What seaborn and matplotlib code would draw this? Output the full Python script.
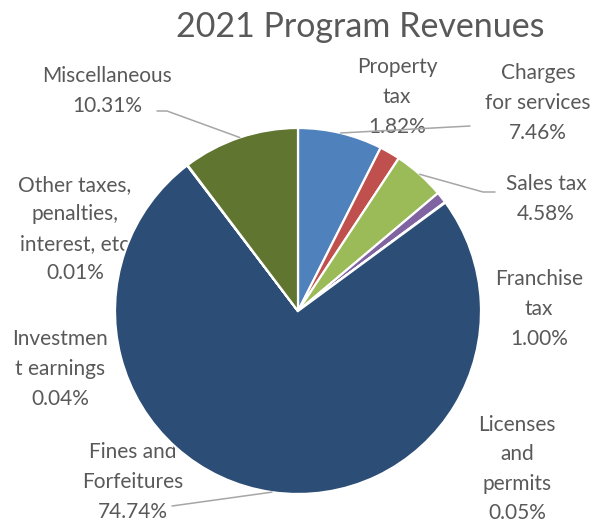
import numpy as np
import matplotlib
matplotlib.use("Agg")
import matplotlib.pyplot as plt
import seaborn as sns

# Revenue categories in clockwise order starting at 12 o'clock
categories = [
    "Charges\nfor services",
    "Property\ntax",
    "Sales tax",
    "Franchise\ntax",
    "Licenses\nand\npermits",
    "Fines and\nForfeitures",
    "Investmen\nt earnings",
    "Other taxes,\npenalties,\ninterest, etc",
    "Miscellaneous",
]
shares = [7.46, 1.82, 4.58, 1.00, 0.05, 74.74, 0.04, 0.01, 10.31]
colors = ["#4F81BD", "#C0504D", "#9BBB59", "#8064A2", "#4BACC6",
          "#2C4D75", "#F79646", "#772C2A", "#5F7530"]

sns.set_theme(style="white")
plt.rcParams["font.family"] = ["Lato", "DejaVu Sans"]

W, H = 592, 522
fig = plt.figure(figsize=(W / 100, H / 100), dpi=100)
fig.patch.set_facecolor("white")

# pie placement (pixels): centre and radius
CX, CY, R = 298, 311, 183
ax = fig.add_axes([(CX - R) / W, (H - CY - R) / H, 2 * R / W, 2 * R / H])

wedges, _ = ax.pie(shares, colors=colors, startangle=90, counterclock=False,
                   radius=1.0,
                   wedgeprops=dict(edgecolor="white", linewidth=1.6, zorder=3))
ax.set_xlim(-1, 1)
ax.set_ylim(-1, 1)
ax.set_aspect("equal")
ax.axis("off")


def to_data(px, py):
    return (px - CX) / R, (CY - py) / R


text_color = "#595959"
line_color = "#A6A6A6"

# label block centres in pixels, per category
label_pos = [
    (538, 103),
    (397, 97),
    (546, 199),
    (539, 309),
    (517, 469),
    (133, 482),
    (60, 369),
    (75, 229),
    (107, 91),
]

for name, val, (lx, ly) in zip(categories, shares, label_pos):
    x, y = to_data(lx, ly)
    ax.text(x, y, f"{name}\n{val:.2f}%", ha="center", va="center",
            fontsize=15, color=text_color, linespacing=1.6,
            zorder=1, clip_on=False)

# leader lines from wedge midpoints to labels
leaders = {
    0: [(470, 126)],
    2: [(483, 192), (495, 192)],
    5: [(172, 506)],
    8: [(167, 111), (157, 111)],
}
cum = np.cumsum([0] + shares)
total = cum[-1]
for idx, pts in leaders.items():
    mid = (cum[idx] + cum[idx + 1]) / 2 / total
    ang = np.deg2rad(90 - 360 * mid)
    xs = [np.cos(ang) * 1.0]
    ys = [np.sin(ang) * 1.0]
    for p in pts:
        dx, dy = to_data(*p)
        xs.append(dx)
        ys.append(dy)
    ax.plot(xs, ys, color=line_color, linewidth=1.1, zorder=4, clip_on=False)

fig.text(360 / W, 1 - 27 / H, "2021 Program Revenues", ha="center",
         va="center", fontsize=24.5, color=text_color)

fig.savefig("out.png", dpi=100)
